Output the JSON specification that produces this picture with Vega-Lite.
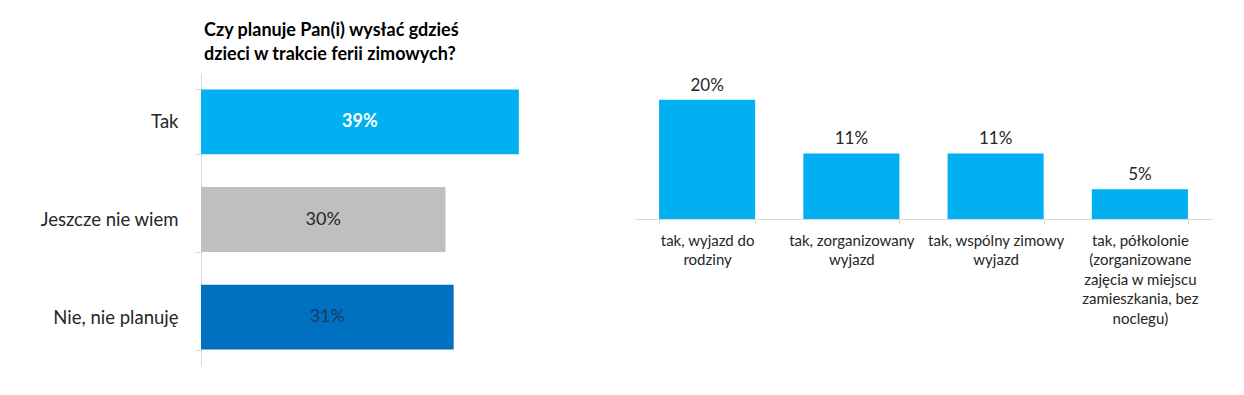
{
  "$schema": "https://vega.github.io/schema/vega-lite/v6.json",
  "background": "white",
  "padding": {"left": 39, "top": 22, "right": 5, "bottom": 5},
  "bounds": "flush",
  "spacing": 108,
  "config": {
    "view": {"stroke": null},
    "font": "Lato",
    "axis": {"labelFont": "Lato", "grid": false}
  },
  "datasets": {
    "planuje": [
      {"odpowiedz": "Tak", "procent": 0.39},
      {"odpowiedz": "Jeszcze nie wiem", "procent": 0.30},
      {"odpowiedz": "Nie, nie planuję", "procent": 0.31}
    ],
    "gdzie": [
      {"kategoria": "tak, wyjazd do|rodziny", "procent": 0.20},
      {"kategoria": "tak, zorganizowany|wyjazd", "procent": 0.11},
      {"kategoria": "tak, wspólny zimowy|wyjazd", "procent": 0.11},
      {"kategoria": "tak, półkolonie|(zorganizowane|zajęcia w miejscu|zamieszkania, bez|noclegu)", "procent": 0.05}
    ]
  },
  "hconcat": [
    {
      "width": 326,
      "height": 293,
      "title": {
        "text": ["Czy planuje Pan(i) wysłać gdzieś", "dzieci w trakcie ferii zimowych?"],
        "anchor": "start",
        "frame": "group",
        "dx": 3,
        "font": "Lato",
        "fontSize": 18,
        "fontWeight": "bold",
        "color": "#000000",
        "lineHeight": 24,
        "offset": 0
      },
      "data": {"name": "planuje"},
      "layer": [
        {
          "mark": {"type": "bar"},
          "encoding": {
            "y": {
              "field": "odpowiedz", "type": "nominal", "sort": null,
              "scale": {"domain": ["Tak", "Jeszcze nie wiem", "Nie, nie planuję"], "paddingInner": 0.337, "paddingOuter": 0.168},
              "axis": {"title": null, "labelFontSize": 18.5, "labelColor": "#262626", "labelPadding": 17, "tickSize": 6, "tickColor": "#D9D9D9", "domainColor": "#D9D9D9", "tickBand": "extent"}
            },
            "x": {"field": "procent", "type": "quantitative", "scale": {"domain": [0, 0.4], "nice": false}, "axis": null},
            "color": {
              "field": "odpowiedz", "type": "nominal",
              "scale": {"domain": ["Tak", "Jeszcze nie wiem", "Nie, nie planuję"], "range": ["#00B0F0", "#BFBFBF", "#0070C0"]},
              "legend": null
            }
          }
        },
        {
          "transform": [{"filter": "datum.odpowiedz == 'Tak'"}],
          "mark": {"type": "text", "fontWeight": "bold", "fontSize": 18, "color": "#FFFFFF", "baseline": "middle", "align": "center"},
          "encoding": {
            "y": {"field": "odpowiedz", "type": "nominal", "sort": null},
            "x": {"field": "procent", "type": "quantitative", "scale": {"domain": [0, 0.8], "nice": false}, "axis": null},
            "text": {"field": "procent", "type": "quantitative", "format": ".0%"}
          }
        },
        {
          "transform": [{"filter": "datum.odpowiedz != 'Tak'"}],
          "mark": {"type": "text", "fontSize": 18, "baseline": "middle", "align": "center"},
          "encoding": {
            "y": {"field": "odpowiedz", "type": "nominal", "sort": null},
            "x": {"field": "procent", "type": "quantitative", "scale": {"domain": [0, 0.8], "nice": false}, "axis": null},
            "text": {"field": "procent", "type": "quantitative", "format": ".0%"},
            "color": {"condition": {"test": "datum.odpowiedz == 'Nie, nie planuję'", "value": "#1F3864"}, "value": "#262626"}
          }
        }
      ],
      "resolve": {"scale": {"x": "independent"}}
    },
    {
      "width": 577,
      "height": 146,
      "data": {"name": "gdzie"},
      "layer": [
        {
          "mark": {"type": "bar", "color": "#00B0F0"},
          "encoding": {
            "x": {
              "field": "kategoria", "type": "nominal", "sort": null,
              "scale": {"paddingInner": 0.334, "paddingOuter": 0.167},
              "axis": {"title": null, "labelAngle": 0, "labelExpr": "split(datum.label, '|')", "labelFontSize": 15, "labelColor": "#262626", "labelLineHeight": 19.5, "labelBaseline": "top", "labelPadding": 9, "labelLimit": 0, "tickSize": 5, "tickColor": "#D9D9D9", "domainColor": "#D9D9D9", "tickBand": "extent"}
            },
            "y": {"field": "procent", "type": "quantitative", "scale": {"domain": [0, 0.245], "nice": false}, "axis": null}
          }
        },
        {
          "mark": {"type": "text", "baseline": "alphabetic", "align": "center", "dy": -9, "fontSize": 17, "color": "#262626"},
          "encoding": {
            "x": {"field": "kategoria", "type": "nominal", "sort": null},
            "y": {"field": "procent", "type": "quantitative"},
            "text": {"field": "procent", "type": "quantitative", "format": ".0%"}
          }
        }
      ]
    }
  ]
}
